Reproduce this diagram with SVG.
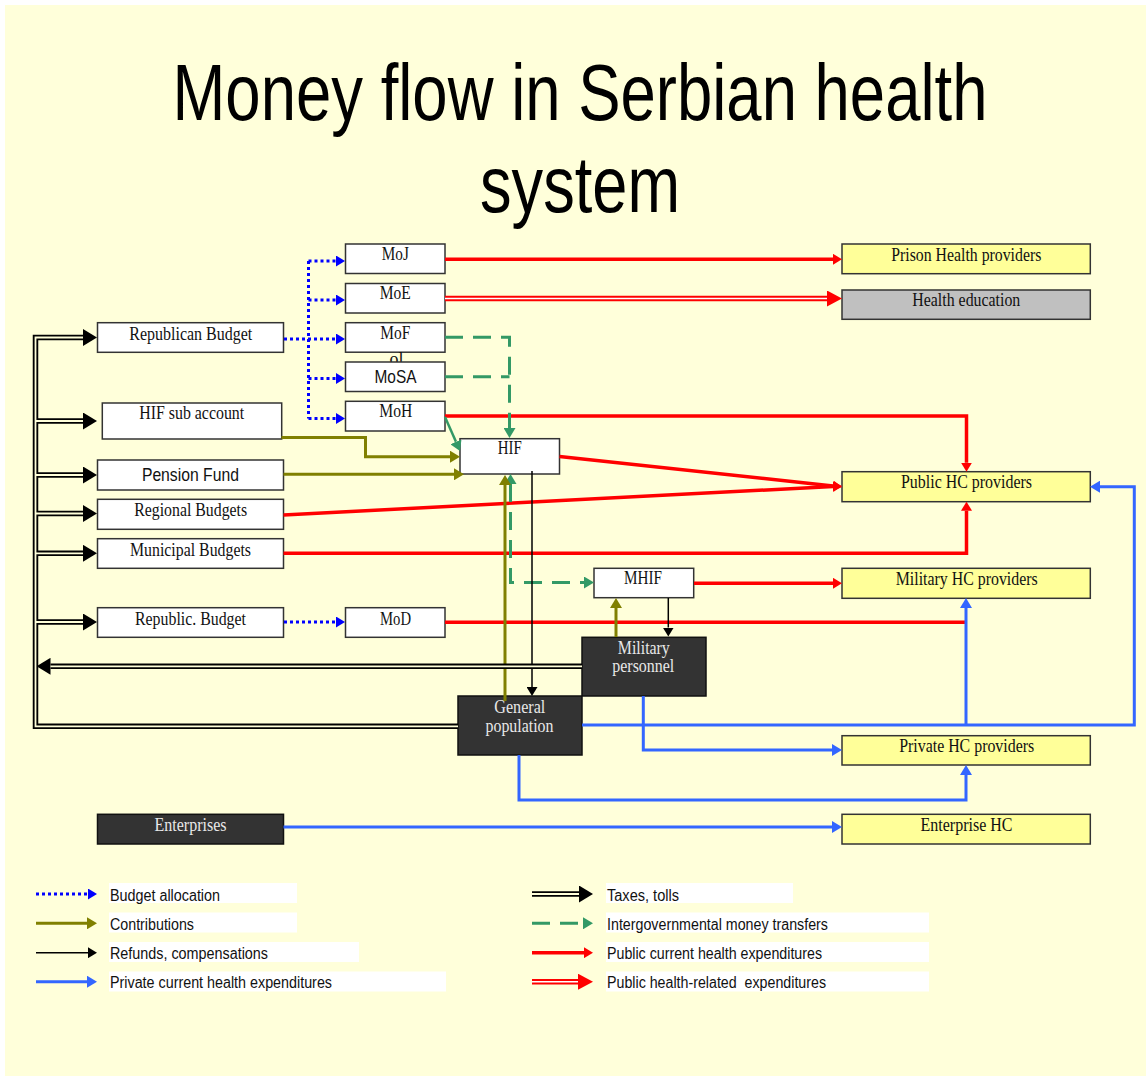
<svg xmlns="http://www.w3.org/2000/svg" width="1146" height="1078" viewBox="0 0 1146 1078">
<style>
.box{fill:#fff;stroke:#333;stroke-width:1.5}
.dark{fill:#333;stroke:#111;stroke-width:1.5}
.prov{fill:#FFFF99;stroke:#333;stroke-width:1.5}
.edu{fill:#C0C0C0;stroke:#333;stroke-width:1.5}
.t{font-family:"Liberation Serif","Times New Roman",serif;font-size:18px;text-anchor:middle;fill:#111}
.s{font-family:"Liberation Sans",Arial,sans-serif;font-size:18.5px;text-anchor:middle;fill:#111}
.tw{fill:#E8E8E8}
.lg{font-family:"Liberation Sans",Arial,sans-serif;font-size:16px;fill:#111;white-space:pre}
.title{font-family:"Liberation Sans",Arial,sans-serif;font-size:80px;text-anchor:middle;fill:#000}
.budget{stroke:#0000FF;stroke-width:3;stroke-dasharray:3 3;fill:none}
.red{stroke:#FF0000;stroke-width:3.5;fill:none}
.red2{stroke:#FF0000;stroke-width:5.5;fill:none}
.red2gap{stroke:#fff;stroke-width:1.6;fill:none}
.green{stroke:#339966;stroke-width:3;stroke-dasharray:18 10;fill:none}
.greens{stroke:#339966;stroke-width:2.5;fill:none}
.olive{stroke:#808000;stroke-width:3;fill:none}
.refund{stroke:#000;stroke-width:1.5;fill:none}
.priv{stroke:#3366FF;stroke-width:3;fill:none}
.tax{stroke:#000;stroke-width:5.5;fill:none}
.taxgap{stroke:#FFFFDA;stroke-width:1.8;fill:none}
</style>
<defs>
<marker id="aBlue" markerWidth="9" markerHeight="11" refX="0" refY="5.5" orient="auto" markerUnits="userSpaceOnUse"><path d="M0,0 L9,5.5 L0,11 z" fill="#0000FF"/></marker>
<marker id="aRed" markerWidth="9" markerHeight="11" refX="0" refY="5.5" orient="auto" markerUnits="userSpaceOnUse"><path d="M0,0 L9,5.5 L0,11 z" fill="#FF0000"/></marker>
<marker id="aRedBig" markerWidth="15" markerHeight="16" refX="0" refY="8" orient="auto" markerUnits="userSpaceOnUse"><path d="M0,0 L15,8 L0,16 z" fill="#FF0000"/></marker>
<marker id="aOlive" markerWidth="10" markerHeight="12" refX="0" refY="6" orient="auto" markerUnits="userSpaceOnUse"><path d="M0,0 L10,6 L0,12 z" fill="#808000"/></marker>
<marker id="aGreen" markerWidth="10" markerHeight="12" refX="0" refY="6" orient="auto" markerUnits="userSpaceOnUse"><path d="M0,0 L10,6 L0,12 z" fill="#339966"/></marker>
<marker id="aGreenR" markerWidth="10" markerHeight="12" refX="0" refY="6" orient="auto-start-reverse" markerUnits="userSpaceOnUse"><path d="M0,0 L10,6 L0,12 z" fill="#339966"/></marker>
<marker id="aBlack" markerWidth="9" markerHeight="11" refX="0" refY="5.5" orient="auto" markerUnits="userSpaceOnUse"><path d="M0,0 L9,5.5 L0,11 z" fill="#000"/></marker>
<marker id="aPriv" markerWidth="10" markerHeight="12" refX="0" refY="6" orient="auto" markerUnits="userSpaceOnUse"><path d="M0,0 L10,6 L0,12 z" fill="#3366FF"/></marker>
<marker id="aTax" markerWidth="14" markerHeight="17" refX="0" refY="8.5" orient="auto-start-reverse" markerUnits="userSpaceOnUse"><path d="M0,0 L14,8.5 L0,17 z" fill="#000"/></marker>
</defs>

<rect x="0" y="0" width="1146" height="1078" fill="#fff"/>
<rect x="5" y="5" width="1141" height="1071" fill="#FFFFDA"/>

<text class="title" x="580" y="120" textLength="815" lengthAdjust="spacingAndGlyphs">Money flow in Serbian health</text>
<text class="title" x="580" y="212" textLength="200" lengthAdjust="spacingAndGlyphs">system</text>

<g id="nodes">
<g id="MoJ"><rect class="box" x="345.5" y="244" width="99.5" height="29.5"/><text class="t" x="395.3" y="259.5" textLength="27" lengthAdjust="spacingAndGlyphs">MoJ</text></g>
<g id="MoE"><rect class="box" x="345.5" y="283.5" width="99.5" height="29.5"/><text class="t" x="395.3" y="299" textLength="31" lengthAdjust="spacingAndGlyphs">MoE</text></g>
<g id="MoF"><rect class="box" x="345.5" y="322.7" width="99.5" height="29.5"/><text class="t" x="395.3" y="339.3" textLength="30" lengthAdjust="spacingAndGlyphs">MoF</text><text class="t" x="389.5" y="365" style="text-anchor:start">ol</text></g>
<g id="MoSA"><rect class="box" x="345.5" y="362" width="99.5" height="29.5"/><text class="s" x="395.5" y="382.7" textLength="42" lengthAdjust="spacingAndGlyphs">MoSA</text></g>
<g id="MoH"><rect class="box" x="345.5" y="401.3" width="99.5" height="29.7"/><text class="t" x="395.8" y="416.7" textLength="33" lengthAdjust="spacingAndGlyphs">MoH</text></g>
<g id="RepublicanBudget"><rect class="box" x="97.5" y="322.7" width="186" height="29.6"/><text class="t" x="190.8" y="340" textLength="123" lengthAdjust="spacingAndGlyphs">Republican Budget</text></g>
<g id="HIFsub"><rect class="box" x="102.3" y="403" width="179.4" height="36"/><text class="t" x="191.7" y="419" textLength="105" lengthAdjust="spacingAndGlyphs">HIF sub account</text></g>
<g id="PensionFund"><rect class="box" x="97.5" y="460" width="186" height="30"/><text class="s" x="190.4" y="480.7" textLength="97" lengthAdjust="spacingAndGlyphs">Pension Fund</text></g>
<g id="RegionalBudgets"><rect class="box" x="97.5" y="499.3" width="186" height="30"/><text class="t" x="190.7" y="515.7" textLength="113" lengthAdjust="spacingAndGlyphs">Regional Budgets</text></g>
<g id="MunicipalBudgets"><rect class="box" x="97.5" y="538.7" width="186" height="29.6"/><text class="t" x="190.5" y="556" textLength="121" lengthAdjust="spacingAndGlyphs">Municipal Budgets</text></g>
<g id="RepublicBudget"><rect class="box" x="97.5" y="607.7" width="186" height="29.6"/><text class="t" x="190.5" y="625" textLength="111" lengthAdjust="spacingAndGlyphs">Republic. Budget</text></g>
<g id="MoD"><rect class="box" x="345.5" y="607.7" width="99.5" height="29.6"/><text class="t" x="395.5" y="625" textLength="31" lengthAdjust="spacingAndGlyphs">MoD</text></g>
<g id="HIF"><rect class="box" x="460" y="438.7" width="99.5" height="35.3"/><text class="t" x="509.7" y="454.3" textLength="24" lengthAdjust="spacingAndGlyphs">HIF</text></g>
<g id="MHIF"><rect class="box" x="594" y="568.3" width="99.7" height="29.4"/><text class="t" x="643" y="584.3" textLength="38" lengthAdjust="spacingAndGlyphs">MHIF</text></g>
<g id="MilitaryPersonnel"><rect class="dark" x="582" y="637.3" width="124" height="58.7"/><text class="t tw" x="643.8" y="654" textLength="52" lengthAdjust="spacingAndGlyphs">Military</text><text class="t tw" x="643.3" y="671.5" textLength="62" lengthAdjust="spacingAndGlyphs">personnel</text></g>
<g id="GeneralPopulation"><rect class="dark" x="458" y="696" width="124" height="59"/><text class="t tw" x="519.8" y="712.7" textLength="51" lengthAdjust="spacingAndGlyphs">General</text><text class="t tw" x="519.5" y="731.5" textLength="68" lengthAdjust="spacingAndGlyphs">population</text></g>
<g id="Enterprises"><rect class="dark" x="97.5" y="814.3" width="186" height="29.7"/><text class="t tw" x="190.5" y="831" textLength="72" lengthAdjust="spacingAndGlyphs">Enterprises</text></g>
<g id="PrisonHealth"><rect class="prov" x="842" y="244" width="248.3" height="29.7"/><text class="t" x="966.3" y="260.7" textLength="150" lengthAdjust="spacingAndGlyphs">Prison Health providers</text></g>
<g id="HealthEducation"><rect class="edu" x="842" y="290" width="248.3" height="29.3"/><text class="t" x="966.3" y="306" textLength="108" lengthAdjust="spacingAndGlyphs">Health education</text></g>
<g id="PublicHC"><rect class="prov" x="842" y="471.7" width="248.3" height="30"/><text class="t" x="966.5" y="488.3" textLength="131" lengthAdjust="spacingAndGlyphs">Public HC providers</text></g>
<g id="MilitaryHC"><rect class="prov" x="842" y="568.3" width="248.3" height="30"/><text class="t" x="966.7" y="585" textLength="142" lengthAdjust="spacingAndGlyphs">Military HC providers</text></g>
<g id="PrivateHC"><rect class="prov" x="842" y="735.7" width="248.3" height="29.3"/><text class="t" x="966.7" y="751.7" textLength="135" lengthAdjust="spacingAndGlyphs">Private HC providers</text></g>
<g id="EnterpriseHC"><rect class="prov" x="842" y="814.3" width="248.3" height="29.7"/><text class="t" x="966.5" y="831" textLength="92" lengthAdjust="spacingAndGlyphs">Enterprise HC</text></g>
</g>

<g id="connectors">
<!-- budget allocation -->
<path class="budget" d="M284 339 H336" marker-end="url(#aBlue)"/>
<path class="budget" d="M308.5 261 V418.5"/>
<path class="budget" d="M308.5 261 H336" marker-end="url(#aBlue)"/>
<path class="budget" d="M308.5 300 H336" marker-end="url(#aBlue)"/>
<path class="budget" d="M308.5 378.5 H336" marker-end="url(#aBlue)"/>
<path class="budget" d="M308.5 418.5 H336" marker-end="url(#aBlue)"/>
<path class="budget" d="M284 622 H336" marker-end="url(#aBlue)"/>
<!-- public current -->
<path class="red" d="M445 259.3 H833" marker-end="url(#aRed)"/>
<path class="red" d="M445 416 H966.5 V462.7" marker-end="url(#aRed)"/>
<path class="red" d="M559.5 456.5 L833.05 486.03" marker-end="url(#aRed)"/>
<path class="red" d="M283.5 515 L833 486.47" marker-end="url(#aRed)"/>
<path class="red" d="M283.5 553.3 H966.5 V510.7" marker-end="url(#aRed)"/>
<path class="red" d="M694 583.3 H833" marker-end="url(#aRed)"/>
<path class="red" d="M445 622.3 H966.5"/>
<!-- public health-related -->
<path class="red2" d="M445 298.5 H827" marker-end="url(#aRedBig)"/>
<path class="red2gap" d="M445 298.5 H827"/>
<!-- intergovernmental -->
<path class="green" d="M445 337.3 H509.5 V428" marker-end="url(#aGreen)"/>
<path class="green" d="M445 376.7 H509.5"/>
<path class="green" d="M510.5 484 V582.5 H584" marker-start="url(#aGreenR)" marker-end="url(#aGreen)"/>
<path class="greens" d="M445 417 L455.97 441.86" marker-end="url(#aGreen)"/>
<!-- contributions -->
<path class="olive" d="M281.5 437.5 H365.5 V456.7 H450" marker-end="url(#aOlive)"/>
<path class="olive" d="M283.5 474.3 H454" marker-end="url(#aOlive)"/>
<path class="olive" d="M505 701 V485" marker-end="url(#aOlive)"/>
<path class="olive" d="M616 637 V608" marker-end="url(#aOlive)"/>
<!-- refunds -->
<path class="refund" d="M532 471 V687" marker-end="url(#aBlack)"/>
<path class="refund" d="M668.3 598 V627.5" marker-end="url(#aBlack)"/>
<!-- private -->
<path class="priv" d="M582 725 H1134.3 V486.7 H1100" marker-end="url(#aPriv)"/>
<path class="priv" d="M966 725 V608" marker-end="url(#aPriv)"/>
<path class="priv" d="M643.3 696 V750 H832" marker-end="url(#aPriv)"/>
<path class="priv" d="M519 755 V800 H966 V775" marker-end="url(#aPriv)"/>
<path class="priv" d="M283.5 827 H832" marker-end="url(#aPriv)"/>
<!-- taxes -->
<path class="tax" d="M83 337.5 H35.5 V726.3 H458" marker-start="url(#aTax)"/>
<path class="tax" d="M35.5 421 H83" marker-end="url(#aTax)"/>
<path class="tax" d="M35.5 475 H83" marker-end="url(#aTax)"/>
<path class="tax" d="M35.5 513.5 H83" marker-end="url(#aTax)"/>
<path class="tax" d="M35.5 553.3 H83" marker-end="url(#aTax)"/>
<path class="tax" d="M35.5 622 H83" marker-end="url(#aTax)"/>
<path class="tax" d="M582 666.3 H50.5" marker-end="url(#aTax)"/>
<path class="taxgap" d="M35.5 421 H83 M35.5 475 H83 M35.5 513.5 H83 M35.5 553.3 H83 M35.5 622 H83 M582 666.3 H50.5"/>
<path class="taxgap" d="M83 337.5 H35.5 V726.3 H458"/>
</g>

<g id="legend">
<rect x="109" y="883" width="188" height="20" fill="#fff"/>
<rect x="109" y="912.5" width="188" height="20" fill="#fff"/>
<rect x="109" y="942" width="250" height="20" fill="#fff"/>
<rect x="109" y="971.5" width="337" height="20" fill="#fff"/>
<rect x="606" y="883" width="187" height="20" fill="#fff"/>
<rect x="606" y="912.5" width="323" height="20" fill="#fff"/>
<rect x="606" y="942" width="323" height="20" fill="#fff"/>
<rect x="606" y="971.5" width="323" height="20" fill="#fff"/>
<text class="lg" x="110" y="900.5" textLength="110" lengthAdjust="spacingAndGlyphs">Budget allocation</text>
<text class="lg" x="110" y="930" textLength="84" lengthAdjust="spacingAndGlyphs">Contributions</text>
<text class="lg" x="110" y="959.3" textLength="158" lengthAdjust="spacingAndGlyphs">Refunds, compensations</text>
<text class="lg" x="110" y="988.3" textLength="222" lengthAdjust="spacingAndGlyphs">Private current health expenditures</text>
<text class="lg" x="607" y="900.5" textLength="72" lengthAdjust="spacingAndGlyphs">Taxes, tolls</text>
<text class="lg" x="607" y="930" textLength="221" lengthAdjust="spacingAndGlyphs">Intergovernmental money transfers</text>
<text class="lg" x="607" y="959.3" textLength="215" lengthAdjust="spacingAndGlyphs">Public current health expenditures</text>
<text class="lg" x="607" y="988.3" textLength="219" lengthAdjust="spacingAndGlyphs">Public health-related  expenditures</text>
<path class="budget" d="M36 894 H88" marker-end="url(#aBlue)"/>
<path class="olive" d="M36 923.3 H87" marker-end="url(#aOlive)"/>
<path class="refund" d="M36 952.7 H88" marker-end="url(#aBlack)"/>
<path class="priv" d="M36 981.7 H87" marker-end="url(#aPriv)"/>
<path class="tax" d="M532 894 H579" marker-end="url(#aTax)"/>
<path class="taxgap" d="M532 894 H579"/>
<path class="green" d="M532 923.3 H583" marker-end="url(#aGreen)"/>
<path class="red" d="M532 952.7 H584" marker-end="url(#aRed)"/>
<path class="red2" d="M532 981.7 H578" marker-end="url(#aRedBig)"/>
<path class="red2gap" d="M532 981.7 H578"/>
</g>
</svg>
